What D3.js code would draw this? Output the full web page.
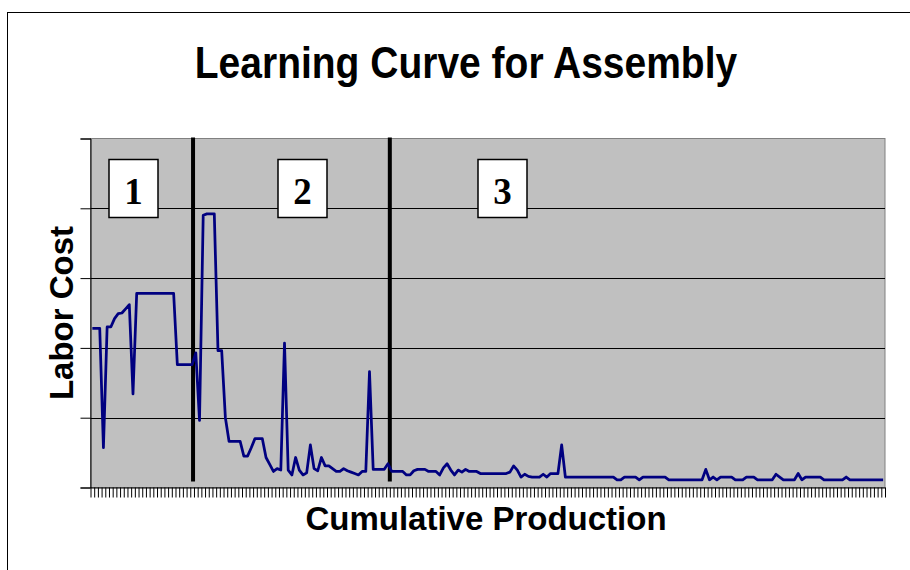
<!DOCTYPE html>
<html>
<head>
<meta charset="utf-8">
<script src="https://cdn.jsdelivr.net/npm/d3@7"></script>
<style>
    body { margin: 0; background: #fff; }
    #chart { width: 910px; height: 570px; }
</style>
</head>
<body>
<div id="chart"></div>
<script>

// labor cost per unit (one value per category)
const laborCost = [
    22.8, 22.8, 22.8, 5.7, 23.0, 23.0, 24.2, 24.9, 25.0, 25.6,
    26.2, 13.4, 27.8, 27.8, 27.8, 27.8, 27.8, 27.8, 27.8, 27.8,
    27.8, 27.8, 27.8, 17.6, 17.6, 17.6, 17.6, 17.6, 19.3, 9.6,
    39.0, 39.2, 39.2, 39.2, 19.6, 19.6, 10.0, 6.6, 6.6, 6.6,
    6.6, 4.5, 4.5, 5.7, 7.0, 7.0, 7.0, 4.3, 3.3, 2.3,
    2.7, 2.5, 20.7, 2.5, 1.8, 4.3, 2.5, 1.8, 2.1, 6.1,
    2.7, 2.4, 4.3, 3.1, 3.1, 2.7, 2.3, 2.3, 2.7, 2.4,
    2.2, 2.0, 1.8, 2.3, 2.3, 16.6, 2.6, 2.6, 2.6, 2.6,
    3.4, 2.3, 2.3, 2.3, 2.3, 1.8, 1.8, 2.4, 2.6, 2.6,
    2.6, 2.3, 2.3, 2.3, 1.8, 2.8, 3.4, 2.5, 1.8, 2.5,
    2.2, 2.6, 2.3, 2.3, 2.3, 2.0, 2.0, 2.0, 2.0, 2.0,
    2.0, 2.0, 2.0, 2.2, 3.1, 2.5, 1.5, 1.9, 1.6, 1.5,
    1.5, 1.5, 1.9, 1.5, 2.0, 2.0, 2.0, 6.1, 1.5, 1.5,
    1.5, 1.5, 1.5, 1.5, 1.5, 1.5, 1.5, 1.5, 1.5, 1.5,
    1.5, 1.5, 1.1, 1.1, 1.5, 1.5, 1.5, 1.5, 1.1, 1.5,
    1.5, 1.5, 1.5, 1.5, 1.5, 1.5, 1.1, 1.1, 1.1, 1.1,
    1.1, 1.1, 1.1, 1.1, 1.1, 1.1, 2.6, 1.1, 1.5, 1.1,
    1.5, 1.5, 1.5, 1.5, 1.1, 1.1, 1.1, 1.5, 1.5, 1.5,
    1.1, 1.1, 1.1, 1.1, 1.1, 1.9, 1.5, 1.1, 1.1, 1.1,
    1.1, 2.0, 1.1, 1.5, 1.5, 1.5, 1.5, 1.5, 1.1, 1.1,
    1.1, 1.1, 1.1, 1.1, 1.5, 1.1, 1.1, 1.1, 1.1, 1.1,
    1.1, 1.1, 1.1, 1.1, 1.1
];

// phase boundaries, in units of cumulative production (categories)
const phaseBreaks = [27.75, 81];
const phaseLabels = ["1", "2", "3"];

// value axis (no tick labels shown in the original)
const yTicks = [0, 10, 20, 30, 40, 50];

const titleText = "Learning Curve for Assembly";
const yTitle = "Labor Cost";
const xTitle = "Cumulative Production";


class LearningCurve {

    constructor(_parentElement, data) {
        this.parentElement = _parentElement;
        this.data = data;
        this.initVis();
    }

    initVis() {
        let vis = this;

        vis.width = 910;
        vis.height = 570;
        vis.plot = {left: 90.5, right: 885, top: 138.5, bottom: 487.5};

        vis.svg = d3.select("#" + vis.parentElement).append("svg")
            .attr("width", vis.width)
            .attr("height", vis.height)
            .style("font-family", "'Liberation Sans', Arial, sans-serif");

        // outer chart frame (runs off the right and bottom edge)
        vis.svg.append("rect")
            .attr("x", 7.5).attr("y", 12.5)
            .attr("width", 960).attr("height", 600)
            .attr("fill", "#fff")
            .attr("stroke", "#000")
            .attr("stroke-width", 1);

        // scales
        vis.x = d3.scaleBand()
            .domain(d3.range(vis.data.length))
            .range([vis.plot.left, vis.plot.right])
            .paddingInner(0).paddingOuter(0);

        // category positions for ticks and phase lines
        vis.xPos = d3.scaleLinear()
            .domain([0, vis.data.length])
            .range([vis.plot.left, vis.plot.right]);

        vis.y = d3.scaleLinear()
            .domain([0, d3.max(yTicks)])
            .range([vis.plot.bottom, vis.plot.top]);

        // plot area
        vis.svg.append("rect")
            .attr("x", vis.plot.left)
            .attr("y", vis.plot.top)
            .attr("width", vis.plot.right - vis.plot.left)
            .attr("height", vis.plot.bottom - vis.plot.top)
            .attr("fill", "#c0c0c0")
            .attr("stroke", "#808080")
            .attr("stroke-width", 1);

        // gridlines
        vis.svg.append("g")
            .selectAll("line")
            .data(yTicks.slice(1, -1))
            .enter()
            .append("line")
            .attr("x1", vis.plot.left).attr("x2", vis.plot.right)
            .attr("y1", d => Math.round(vis.y(d)) + 0.5)
            .attr("y2", d => Math.round(vis.y(d)) + 0.5)
            .attr("stroke", "#000")
            .attr("stroke-width", 1);

        // axes
        vis.yAxis = d3.axisLeft(vis.y)
            .tickValues(yTicks)
            .tickSize(10)
            .tickFormat("");
        vis.svg.append("g")
            .attr("class", "axis")
            .attr("transform", `translate(${vis.plot.left},0)`)
            .call(vis.yAxis);

        vis.xAxis = d3.axisBottom(vis.xPos)
            .tickValues(d3.range(vis.data.length + 1))
            .tickSize(10)
            .tickSizeOuter(0)
            .tickFormat("");
        vis.svg.append("g")
            .attr("class", "axis")
            .attr("transform", `translate(0,${vis.plot.bottom})`)
            .call(vis.xAxis);

        vis.svg.selectAll(".axis path, .axis line")
            .attr("stroke", "#000")
            .attr("stroke-width", 1);

        // phase separators
        vis.svg.append("g")
            .selectAll("line")
            .data(phaseBreaks)
            .enter()
            .append("line")
            .attr("x1", d => vis.xPos(d)).attr("x2", d => vis.xPos(d))
            .attr("y1", vis.plot.top - 1)
            .attr("y2", vis.plot.bottom - 6)
            .attr("stroke", "#000")
            .attr("stroke-width", 4);

        // the learning curve
        vis.line = d3.line()
            .x((d, i) => vis.x(i) + vis.x.bandwidth() / 2)
            .y(d => vis.y(d));

        vis.svg.append("path")
            .datum(vis.data)
            .attr("d", vis.line)
            .attr("fill", "none")
            .attr("stroke", "#000080")
            .attr("stroke-width", 2.75)
            .attr("stroke-linejoin", "round");

        // numbered phase boxes
        let boxLeft = [18.5, 187.5, 387.5];
        let boxes = vis.svg.append("g")
            .selectAll("g")
            .data(phaseLabels)
            .enter()
            .append("g")
            .attr("transform", (d, i) => `translate(${vis.plot.left + boxLeft[i]},159.5)`);

        boxes.append("rect")
            .attr("width", 49).attr("height", 58)
            .attr("fill", "#fff")
            .attr("stroke", "#000")
            .attr("stroke-width", 1.5);

        boxes.append("text")
            .attr("x", 24.5).attr("y", 44)
            .attr("text-anchor", "middle")
            .style("font-family", "'Liberation Serif', 'Times New Roman', serif")
            .style("font-weight", "bold")
            .style("font-size", "37px")
            .text(d => d);

        // titles (the original title is slightly stretched vertically)
        vis.svg.append("text")
            .attr("transform", "translate(466,78) scale(1,1.15)")
            .attr("text-anchor", "middle")
            .style("font-weight", "bold")
            .style("font-size", "39px")
            .text(titleText);

        vis.svg.append("text")
            .attr("transform", "translate(73,313) rotate(-90)")
            .attr("text-anchor", "middle")
            .style("font-weight", "bold")
            .style("font-size", "33px")
            .text(yTitle);

        vis.svg.append("text")
            .attr("x", 486).attr("y", 530)
            .attr("text-anchor", "middle")
            .style("font-weight", "bold")
            .style("font-size", "33px")
            .text(xTitle);
    }
}

let chart = new LearningCurve("chart", laborCost);

</script>
</body>
</html>
